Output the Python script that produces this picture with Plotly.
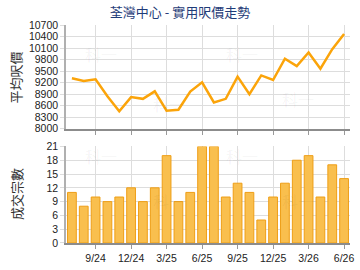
import plotly.graph_objects as go

months = ["7/24","8/24","9/24","10/24","11/24","12/24","1/25","2/25","3/25","4/25","5/25","6/25",
          "7/25","8/25","9/25","10/25","11/25","12/25","1/26","2/26","3/26","4/26","5/26","6/26"]
price = [9310, 9240, 9285, 8840, 8450, 8820, 8775, 8970, 8465, 8490, 8965, 9205,
         8680, 8775, 9355, 8895, 9385, 9265, 9820, 9630, 9985, 9560, 10070, 10465]
deals = [11, 8, 10, 9, 10, 12, 9, 12, 19, 9, 11, 21, 21, 10, 13, 11, 5, 10, 13, 18, 19, 10, 17, 14]
tick_months = ["9/24", "12/24", "3/25", "6/25", "9/25", "12/25", "3/26", "6/26"]
price_ticks = list(range(8000, 10701, 300))
deal_ticks = list(range(0, 22, 3))

x = list(range(len(months)))
tickvals = [months.index(m) for m in tick_months]

fig = go.Figure()
fig.add_trace(go.Scatter(x=x, y=price, mode="lines", line=dict(color="#FBA40A", width=2.5),
                         xaxis="x", yaxis="y", hoverinfo="skip"))
fig.add_trace(go.Bar(x=x, y=deals, width=0.74,
                     marker=dict(color="#F9BF4E", line=dict(color="#EE9E16", width=1)),
                     xaxis="x2", yaxis="y2", hoverinfo="skip"))

font = "Liberation Sans, Arial, sans-serif"
common_x = dict(range=[-0.5, len(months) - 0.5], tickvals=tickvals, showgrid=True,
                gridcolor="#dddddd", gridwidth=1, ticks="outside", ticklen=4, tickcolor="#999999",
                showline=True, linecolor="#8c8c8c", linewidth=2, zeroline=False, fixedrange=True,
                tickfont=dict(family=font, size=10.5, color="#222222"))
common_y = dict(showgrid=True, gridcolor="#dddddd", gridwidth=1, ticks="outside", ticklen=4,
                tickcolor="#dddddd", showline=True, linecolor="#b0b0b0", linewidth=1.5,
                zeroline=False, fixedrange=True, tickformat="d",
                tickfont=dict(family=font, size=10.5, color="#222222"))

fig.update_layout(
    width=360, height=270,
    margin=dict(l=66, r=6, t=25, b=26),
    paper_bgcolor="white", plot_bgcolor="white",
    showlegend=False,
    title=dict(text="荃灣中心 - 實用呎價走勢", x=0.5, xanchor="center", y=0.955, yanchor="middle",
               font=dict(family="Noto Sans CJK TC, sans-serif", size=13, color="#1f3c78")),
    xaxis=dict(common_x, domain=[0, 1], anchor="y", showticklabels=False),
    yaxis=dict(common_y, domain=[0.525, 1], range=[8000, 10700], tickvals=price_ticks),
    xaxis2=dict(common_x, domain=[0, 1], anchor="y2",
                ticktext=tick_months),
    yaxis2=dict(common_y, domain=[0, 0.443], range=[0, 21], tickvals=deal_ticks),
    bargap=0.25,
)

anns = [
    dict(text="平均呎價", x=-0.177, y=0.758),
    dict(text="成交宗數", x=-0.177, y=0.224),
]
for a in anns:
    fig.add_annotation(text=a["text"], xref="paper", yref="paper", x=a["x"], y=a["y"],
                       xanchor="center", yanchor="middle", textangle=-90, showarrow=False,
                       font=dict(family="Noto Sans CJK TC, sans-serif", size=13, color="#333333"))

# faint watermarks
for wx, wy in [(0.06, 0.93), (0.30, 0.70), (0.62, 0.93), (0.88, 0.66), (0.06, 0.40), (0.30, 0.13), (0.62, 0.40), (0.88, 0.13)]:
    fig.add_annotation(text="科一", xref="paper", yref="paper", x=wx, y=wy, showarrow=False,
                       font=dict(family="Noto Sans CJK TC, sans-serif", size=16, color="rgba(0,0,0,0.05)"))

fig.write_html("out.html")
